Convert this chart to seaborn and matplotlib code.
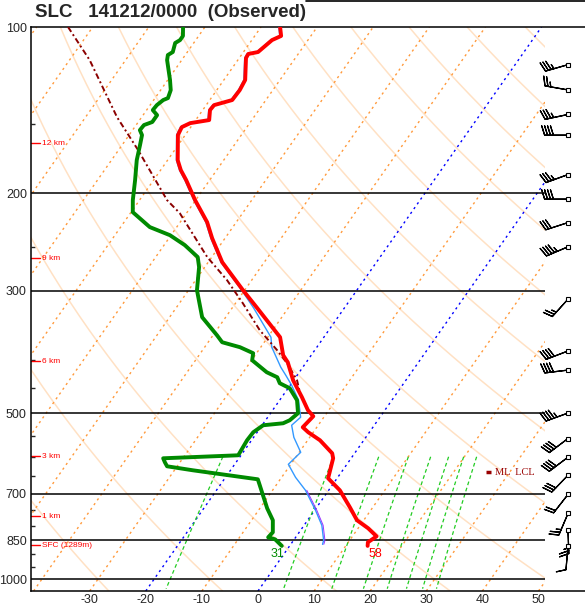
import numpy as np
import pandas as pd
import matplotlib
matplotlib.use("Agg")
import matplotlib.pyplot as plt
import matplotlib.transforms as mtransforms
from matplotlib.patches import Rectangle
from matplotlib.lines import Line2D
from matplotlib.ticker import NullFormatter
import seaborn as sns

# SLC 141212/0000 observed sounding
pres_t = [100, 103.8, 105.6, 111.0, 111.9, 113.8, 124.7, 130.1, 135.6, 138.5, 141.4, 147.4,
          149.3, 151.8, 156.9, 174.2, 181.6, 189.3, 205.8, 225.6, 241.2, 266.6, 299.6, 322.9,
          364.5, 392.9, 404.6, 436.1, 468.1, 494.2, 506.7, 530.5, 541.7, 560.1, 591.3, 603.8,
          656.3, 690.0, 740.5, 781.8, 808.5, 836.0, 857.1, 870.0]
temp = [-66.6, -65.3, -66.4, -67.4, -68.9, -68.8, -66.2, -65.9, -66.0, -68.6, -68.7, -67.6,
        -70.6, -71.6, -71.3, -68.2, -66.4, -64.2, -60.1, -55.2, -52.3, -47.5, -40.3, -35.5,
        -27.8, -25.0, -23.3, -20.1, -16.4, -13.7, -12.0, -12.5, -10.9, -7.8, -4.0, -3.2,
        -1.6, 2.0, 5.9, 8.8, 11.8, 14.3, 13.5, 13.9]

pres_td = [100, 103.8, 105.6, 106.9, 111.0, 112.4, 114.8, 124.7, 130.1, 134.5, 135.6, 138.5,
           141.4, 144.4, 148.6, 150.5, 153.7, 156.9, 163.6, 174.2, 189.3, 205.8, 216.4, 230.3,
           238.2, 248.3, 261.0, 272.2, 299.6, 335.3, 361.5, 372.2, 380.0, 389.6, 401.2, 421.8,
           430.7, 441.6, 450.9, 474.0, 500.4, 515.3, 521.8, 526.1, 541.7, 560.1, 596.3, 603.8,
           613.9, 624.3, 634.8, 659.1, 675.8, 743.9, 781.8, 822.0, 839.5, 846.6, 870.0]
dwpt = [-83.9, -82.8, -82.8, -83.3, -82.6, -83.1, -82.6, -79.6, -78.2, -77.7, -78.3, -78.8,
        -78.9, -77.5, -77.5, -78.6, -78.7, -77.7, -76.8, -75.5, -73.3, -71.2, -69.7, -64.8,
        -60.2, -56.3, -52.5, -51.0, -48.5, -44.2, -39.3, -37.5, -33.7, -30.6, -29.9, -25.8,
        -23.3, -22.1, -19.7, -16.9, -15.1, -15.7, -16.5, -19.8, -20.7, -20.8, -20.5, -33.5,
        -32.7, -31.8, -26.7, -14.0, -12.9, -8.7, -6.2, -4.7, -4.9, -3.4, -1.4]

# thin blue trace: hugs the temperature aloft, wet-bulb below
pres_wb = pres_t[:23] + [322.9, 364.5, 380.0, 413.0, 427.1, 445.3, 474.0, 508.8, 526.1,
                         553.2, 588.9, 619.2, 653.6, 690.0, 750.1, 798.5, 850.1, 864.4]
wetbulb = temp[:23] + [-35.9, -29.2, -27.8, -23.7, -21.8, -19.5, -16.4, -13.9, -14.5,
                       -12.6, -9.5, -10.2, -7.3, -3.9, 0.4, 3.4, 5.6, 5.9]

# mixed-layer parcel path
pres_parcel = [100, 114.8, 145.6, 167.1, 205.8, 217.3, 261.0, 287.3, 316.3, 354.0,
               384.8, 406.2, 436.1, 458.5]
parcel_t = [-104.4, -96.4, -84.4, -76.5, -65.1, -61.2, -50.8, -44.4, -38.7, -32.3,
            -26.7, -23.3, -19.4, -17.4]

wind_p = [117, 130, 144, 157, 185, 205, 226, 250, 311, 386, 418, 500, 556, 601, 648, 702, 760, 815, 872]
wind_dir = [254, 280, 258, 270, 250, 270, 252, 247, 222, 249, 263, 250, 233, 233, 224, 218, 203, 178, 185]
wind_kt = [35, 25, 35, 40, 35, 40, 30, 45, 25, 40, 40, 45, 40, 40, 30, 20, 25, 25, 10]

height_p = [162.5, 262.1, 402.9, 598.8, 769.1, 868.0]
height_lbl = ['12 km', '9 km', '6 km', '3 km', '1 km', 'SFC (1289m)']

p_labels = [100, 200, 300, 500, 700, 850, 1000]
p_minor = [150, 250, 400, 450, 550, 600, 650, 750, 800, 900, 950]
t_ticks = [-30, -20, -10, 0, 10, 20, 30, 40, 50]
mix_ratios = [1, 5, 9, 13, 17, 21, 25, 29]
sfc_td_f, sfc_t_f = 31, 58
ml_lcl_p = 640

P_BOT, P_TOP = 1050., 100.
SKEW = 30.
X_LEFT, X_RIGHT = -40.46, 58.29
X_EDGE = 51.16   # diagram ends here, wind barbs to the right
X_BARB = 55.26


def skew_x(t, p):
    return np.asarray(t, float) + SKEW * np.log(P_BOT / np.asarray(p, float))


sns.set_style("white")
plt.rcParams['font.family'] = ['Liberation Sans', 'DejaVu Sans']

W, H = 585, 605
fig = plt.figure(figsize=(W / 100, H / 100), dpi=100)
ax = fig.add_axes([31 / W, (H - 591) / H, (585 - 31) / W, (591 - 27) / H])
ax.set_yscale('log')
ax.set_ylim(P_BOT, P_TOP)
ax.set_xlim(X_LEFT, X_RIGHT)

clip = Rectangle((X_LEFT, P_TOP), X_EDGE - X_LEFT, P_BOT - P_TOP, transform=ax.transData)

# dry adiabats
pp = np.geomspace(P_TOP, P_BOT, 200)
for th in range(-30, 420, 20):
    t = (th + 273.15) * (pp / 1000.) ** 0.2857 - 273.15
    ln, = ax.plot(skew_x(t, pp), pp, color='#FFE1C4', lw=1.1, zorder=1)
    ln.set_clip_path(clip)

# isotherms
for t0 in range(-130, 60, 10):
    col = '#0000FF' if t0 in (-20, 0) else '#FF9A3C'
    ln, = ax.plot(skew_x([t0, t0], [P_BOT, P_TOP]), [P_BOT, P_TOP], color=col, lw=1.0,
                  ls=(0, (1.6, 2.6)), zorder=2)
    ln.set_clip_path(clip)

# mixing ratio lines
pm = np.geomspace(600, 1040, 40)
for w in mix_ratios:
    e = w * pm / (622. + w)
    a = np.log(e / 6.112)
    td = 243.5 * a / (17.67 - a)
    ax.plot(skew_x(td, pm), pm, color='#22CC22', lw=0.9, ls=(0, (3, 2.2)), zorder=2)

# isobars
ax.hlines([p for p in p_labels if p != 100], X_LEFT, X_EDGE, color='black', lw=1.1, zorder=3)

# profiles
off = mtransforms.offset_copy(ax.transData, fig=fig, x=-1.3, y=0, units='dots')
ax.plot(skew_x(wetbulb, pres_wb), pres_wb, color='#3399FF', lw=1.0, transform=off, zorder=4)
sel = [i for i, p in enumerate(pres_wb) if 670 < p < 870]
ax.plot(skew_x([wetbulb[i] for i in sel], [pres_wb[i] for i in sel]), [pres_wb[i] for i in sel],
        color='#9933FF', lw=0.7, zorder=4)
ax.plot(skew_x(parcel_t, pres_parcel), pres_parcel, color='#8B0000', lw=1.4,
        ls=(0, (3, 1.5, 1, 1.5)), zorder=4)

prof_t = pd.DataFrame({'x': skew_x(temp, pres_t), 'p': pres_t})
prof_td = pd.DataFrame({'x': skew_x(dwpt, pres_td), 'p': pres_td})
sns.lineplot(data=prof_td, x='x', y='p', sort=False, estimator=None, color='#008A00',
             lw=2.8, ax=ax, zorder=5)
sns.lineplot(data=prof_t, x='x', y='p', sort=False, estimator=None, color='#FF0000',
             lw=2.8, ax=ax, zorder=5)

# surface values in F
ax.annotate(str(sfc_td_f), (skew_x(dwpt[-1], pres_td[-1]), pres_td[-1]), xytext=(-4, -8),
            textcoords='offset pixels', ha='center', va='center', color='#008A00', fontsize=9)
ax.annotate(str(sfc_t_f), (skew_x(temp[-1], pres_t[-1]), pres_t[-1]), xytext=(8, -8),
            textcoords='offset pixels', ha='center', va='center', color='#FF0000', fontsize=9)

# ML LCL marker
ax.plot([40.64, 41.53], [ml_lcl_p, ml_lcl_p], color='#990000', lw=2.5, solid_capstyle='butt')
ax.text(42.3, ml_lcl_p, 'ML  LCL', color='#990000', fontsize=7.5, va='center',
        family=['Liberation Serif', 'DejaVu Serif'])

# height markers
ytr = ax.get_yaxis_transform()
for p, lbl in zip(height_p, height_lbl):
    ax.plot([0, 0.017], [p, p], color='red', lw=1.0, transform=ytr, clip_on=False)
    ax.text(0.02, p, lbl, color='red', fontsize=6, va='center', transform=ytr)

# wind barbs
wd = np.radians(wind_dir)
u = -np.array(wind_kt) * np.sin(wd)
v = -np.array(wind_kt) * np.cos(wd)
ax.barbs(np.full(len(wind_p), X_BARB), wind_p, u, v, length=5.8, lw=0.9, color='black', zorder=6)
ax.plot(np.full(len(wind_p), X_BARB), wind_p, 's', ms=2.6, mfc='white', mec='black', mew=0.8,
        zorder=7)

# axes styling
for s in ['right']:
    ax.spines[s].set_visible(False)
for s in ['left', 'bottom', 'top']:
    ax.spines[s].set_color('black')
    ax.spines[s].set_linewidth(1.1)
ax.set_yticks(p_labels, labels=[str(p) for p in p_labels])
ax.set_yticks(p_minor, minor=True)
ax.yaxis.set_minor_formatter(NullFormatter())
ax.tick_params(axis='y', which='major', length=0, pad=3, labelsize=9)
ax.tick_params(axis='y', which='minor', direction='in', length=3, width=1, left=True)
ax.set_xticks(t_ticks, labels=[str(t) for t in t_ticks])
ax.tick_params(axis='x', length=0, pad=2, labelsize=9)
ax.set_xlabel('')
ax.set_ylabel('')

fig.text(35 / W, 1 - 17 / H, 'SLC   141212/0000  (Observed)', fontsize=13.5, weight='bold',
         va='baseline')
fig.add_artist(Line2D([306 / W, 1], [1 - 0.7 / H, 1 - 0.7 / H], color='black', lw=1.2))

fig.savefig('out.png', dpi=100, facecolor='white')
